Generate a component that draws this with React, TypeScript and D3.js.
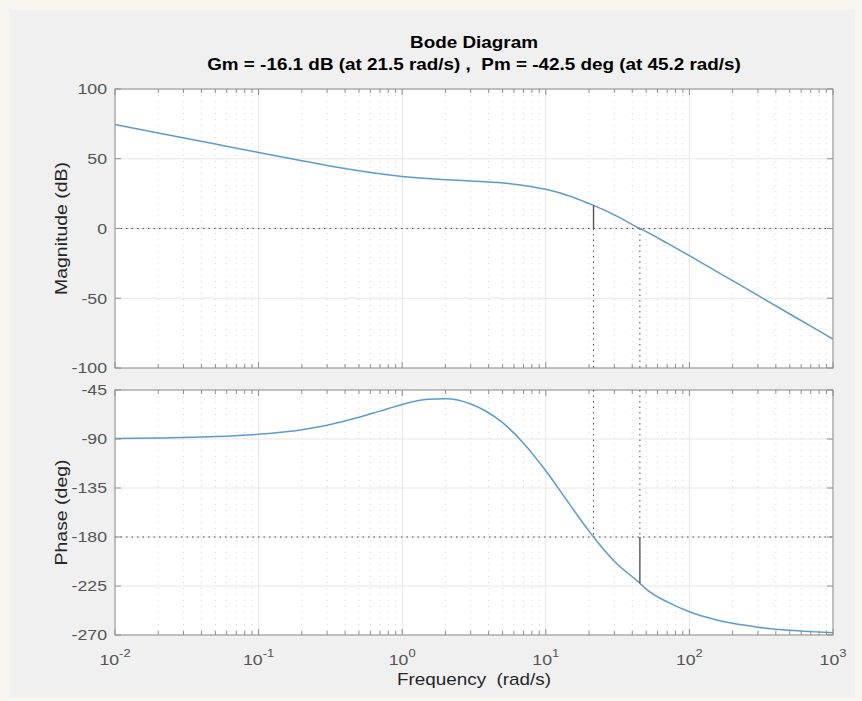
import React from 'react';
import * as d3 from 'd3';

// ---- data ----
const freqs = [0.01, 0.02, 0.05, 0.1, 0.2, 0.3, 0.5, 0.7, 1, 1.5, 2, 3, 5, 7, 10, 15, 20, 21.5, 30, 45.2, 50, 70, 100, 150, 200, 300, 500, 700, 1000];
const magnitudeDb = [74.6, 68.5, 60.5, 54.5, 48.6, 45.2, 41.4, 39.2, 37.3, 35.8, 35.0, 34.1, 32.6, 30.9, 28.1, 22.9, 17.9, 16.6, 9.8, 0.0, -2.2, -10.5, -19.5, -30.0, -37.4, -48.0, -61.3, -70.0, -79.3];
const phaseDeg = [-89.6, -89.1, -87.8, -85.6, -81.4, -77.3, -70.1, -64.4, -58.3, -53.6, -53.1, -57.8, -75.0, -93.8, -119.2, -151.9, -174.6, -180.0, -202.2, -222.5, -227.9, -239.6, -248.6, -255.7, -259.3, -262.8, -265.7, -266.9, -267.9];

const magTicks = [100, 50, 0, -50, -100];
const phaseTicks = [-45, -90, -135, -180, -225, -270];
const decadeExps = [-2, -1, 0, 1, 2, 3];

const gainMarginFreq = 21.5;
const gainMarginMag = 16.6;
const phaseMarginFreq = 45.2;
const phaseMarginPhase = -222.5;

const titleLine1 = 'Bode Diagram';
const titleLine2 = 'Gm = -16.1 dB (at 21.5 rad/s) ,\u00a0\u00a0Pm = -42.5 deg (at 45.2 rad/s)';
const xLabel = 'Frequency\u00a0\u00a0(rad/s)';
const magLabel = 'Magnitude (dB)';
const phaseLabel = 'Phase (deg)';

// ---- layout ----
const W = 862;
const H = 701;
const L = 115;
const R = 833;
const magTop = 89;
const magBot = 368;
const phTop = 390;
const phBot = 635;
const SX = 1.18;
const FONT = "'Liberation Sans', Arial, Helvetica, sans-serif";
const AXIS = '#8f8f8f';

const x = d3.scaleLog().domain([1e-2, 1e3]).range([L, R]);
const yMag = d3.scaleLinear().domain([-100, 100]).range([magBot, magTop]);
const yPh = d3.scaleLinear().domain([-270, -45]).range([phBot, phTop]);

const minorFreqs: number[] = [];
decadeExps.slice(0, -1).forEach((e) => {
  for (let k = 2; k <= 9; k++) minorFreqs.push(k * Math.pow(10, e));
});
const majorFreqs = decadeExps.map((e) => Math.pow(10, e));

function SText(props: any) {
  const { x: tx, y: ty, rotate = 0, anchor = 'middle', size = 15, weight = 'normal', fill = '#262626', dy, children } = props;
  return (
    <g transform={`translate(${tx},${ty}) rotate(${rotate}) scale(${SX},1)`}>
      <text textAnchor={anchor} fontSize={size} fontWeight={weight} fill={fill} fontFamily={FONT} dy={dy}>
        {children}
      </text>
    </g>
  );
}

function Axes(props: { y: any; top: number; bot: number; ticks: number[]; values: number[]; refValue: number }) {
  const { y, top, bot, ticks, values, refValue } = props;
  const line = d3
    .line<number>()
    .x((_, i) => x(freqs[i]))
    .y((v) => y(v))
    .curve(d3.curveMonotoneX);
  const clipId = `clip-${top}`;
  return (
    <g>
      <rect x={L} y={top} width={R - L} height={bot - top} fill="#ffffff" />
      {minorFreqs.map((f) => (
        <line key={`mg${f}`} x1={x(f)} x2={x(f)} y1={top} y2={bot} stroke="#d4d4d4" strokeWidth={1} strokeDasharray="1,5" />
      ))}
      {majorFreqs.map((f) => (
        <line key={`Mg${f}`} x1={x(f)} x2={x(f)} y1={top} y2={bot} stroke="#e6e6e6" strokeWidth={1} />
      ))}
      {ticks.map((t) => (
        <line key={`hg${t}`} x1={L} x2={R} y1={y(t)} y2={y(t)} stroke="#e6e6e6" strokeWidth={1} />
      ))}
      <line x1={L} x2={R} y1={y(refValue)} y2={y(refValue)} stroke="#4a4a4a" strokeWidth={1} strokeDasharray="1.5,4" />
      <clipPath id={clipId}>
        <rect x={L} y={top} width={R - L} height={bot - top} />
      </clipPath>
      <path d={line(values) || ''} fill="none" stroke="#5b9bd3" strokeWidth={1.5} clipPath={`url(#${clipId})`} />
      {majorFreqs.map((f) => (
        <g key={`Mt${f}`}>
          <line x1={x(f)} x2={x(f)} y1={bot} y2={bot - 6} stroke={AXIS} />
          <line x1={x(f)} x2={x(f)} y1={top} y2={top + 6} stroke={AXIS} />
        </g>
      ))}
      {minorFreqs.map((f) => (
        <g key={`mt${f}`}>
          <line x1={x(f)} x2={x(f)} y1={bot} y2={bot - 4} stroke={AXIS} />
          <line x1={x(f)} x2={x(f)} y1={top} y2={top + 4} stroke={AXIS} />
        </g>
      ))}
      {ticks.map((t) => (
        <g key={`yt${t}`}>
          <line x1={L} x2={L + 6} y1={y(t)} y2={y(t)} stroke={AXIS} />
          <line x1={R} x2={R - 6} y1={y(t)} y2={y(t)} stroke={AXIS} />
          <SText x={L - 8} y={y(t)} anchor="end" size={15} fill="#555555" dy="0.36em">
            {String(t)}
          </SText>
        </g>
      ))}
      <rect x={L} y={top} width={R - L} height={bot - top} fill="none" stroke={AXIS} strokeWidth={1} />
    </g>
  );
}

export default function App() {
  const xg = x(gainMarginFreq);
  const xp = x(phaseMarginFreq);
  return (
    <svg width={W} height={H} style={{ position: 'absolute', left: 0, top: 0 }} xmlns="http://www.w3.org/2000/svg">
      <rect x={0} y={0} width={W} height={H} fill="#f8f5f0" />
      <rect x={10} y={10} width={845} height={687} fill="#f0f0f0" />

      <Axes y={yMag} top={magTop} bot={magBot} ticks={magTicks} values={magnitudeDb} refValue={0} />
      <Axes y={yPh} top={phTop} bot={phBot} ticks={phaseTicks} values={phaseDeg} refValue={-180} />

      {/* margin markers: magnitude */}
      <line x1={xg} x2={xg} y1={yMag(0)} y2={magBot} stroke="#4a4a4a" strokeDasharray="1.5,4" />
      <line x1={xp} x2={xp} y1={yMag(0)} y2={magBot} stroke="#4a4a4a" strokeDasharray="1.5,4" />
      <line x1={xg} x2={xg} y1={yMag(0)} y2={yMag(gainMarginMag)} stroke="#555" strokeWidth={1.4} />
      {/* margin markers: phase */}
      <line x1={xg} x2={xg} y1={phTop} y2={yPh(-180)} stroke="#4a4a4a" strokeDasharray="1.5,4" />
      <line x1={xp} x2={xp} y1={phTop} y2={yPh(-180)} stroke="#4a4a4a" strokeDasharray="1.5,4" />
      <line x1={xp} x2={xp} y1={yPh(-180)} y2={yPh(phaseMarginPhase)} stroke="#555" strokeWidth={1.4} />

      {decadeExps.map((e) => (
        <SText key={`xl${e}`} x={x(Math.pow(10, e))} y={665} size={15} fill="#555555">
          10<tspan dy={-8} fontSize={11}>{String(e)}</tspan>
        </SText>
      ))}

      <SText x={(L + R) / 2} y={48} size={16} weight="bold" fill="#000">{titleLine1}</SText>
      <SText x={(L + R) / 2} y={70} size={16} weight="bold" fill="#000">{titleLine2}</SText>
      <SText x={(L + R) / 2} y={685} size={16} fill="#262626">{xLabel}</SText>
      <SText x={67} y={(magTop + magBot) / 2} rotate={-90} size={16.5} fill="#262626">{magLabel}</SText>
      <SText x={67} y={(phTop + phBot) / 2} rotate={-90} size={16.5} fill="#262626">{phaseLabel}</SText>
    </svg>
  );
}
